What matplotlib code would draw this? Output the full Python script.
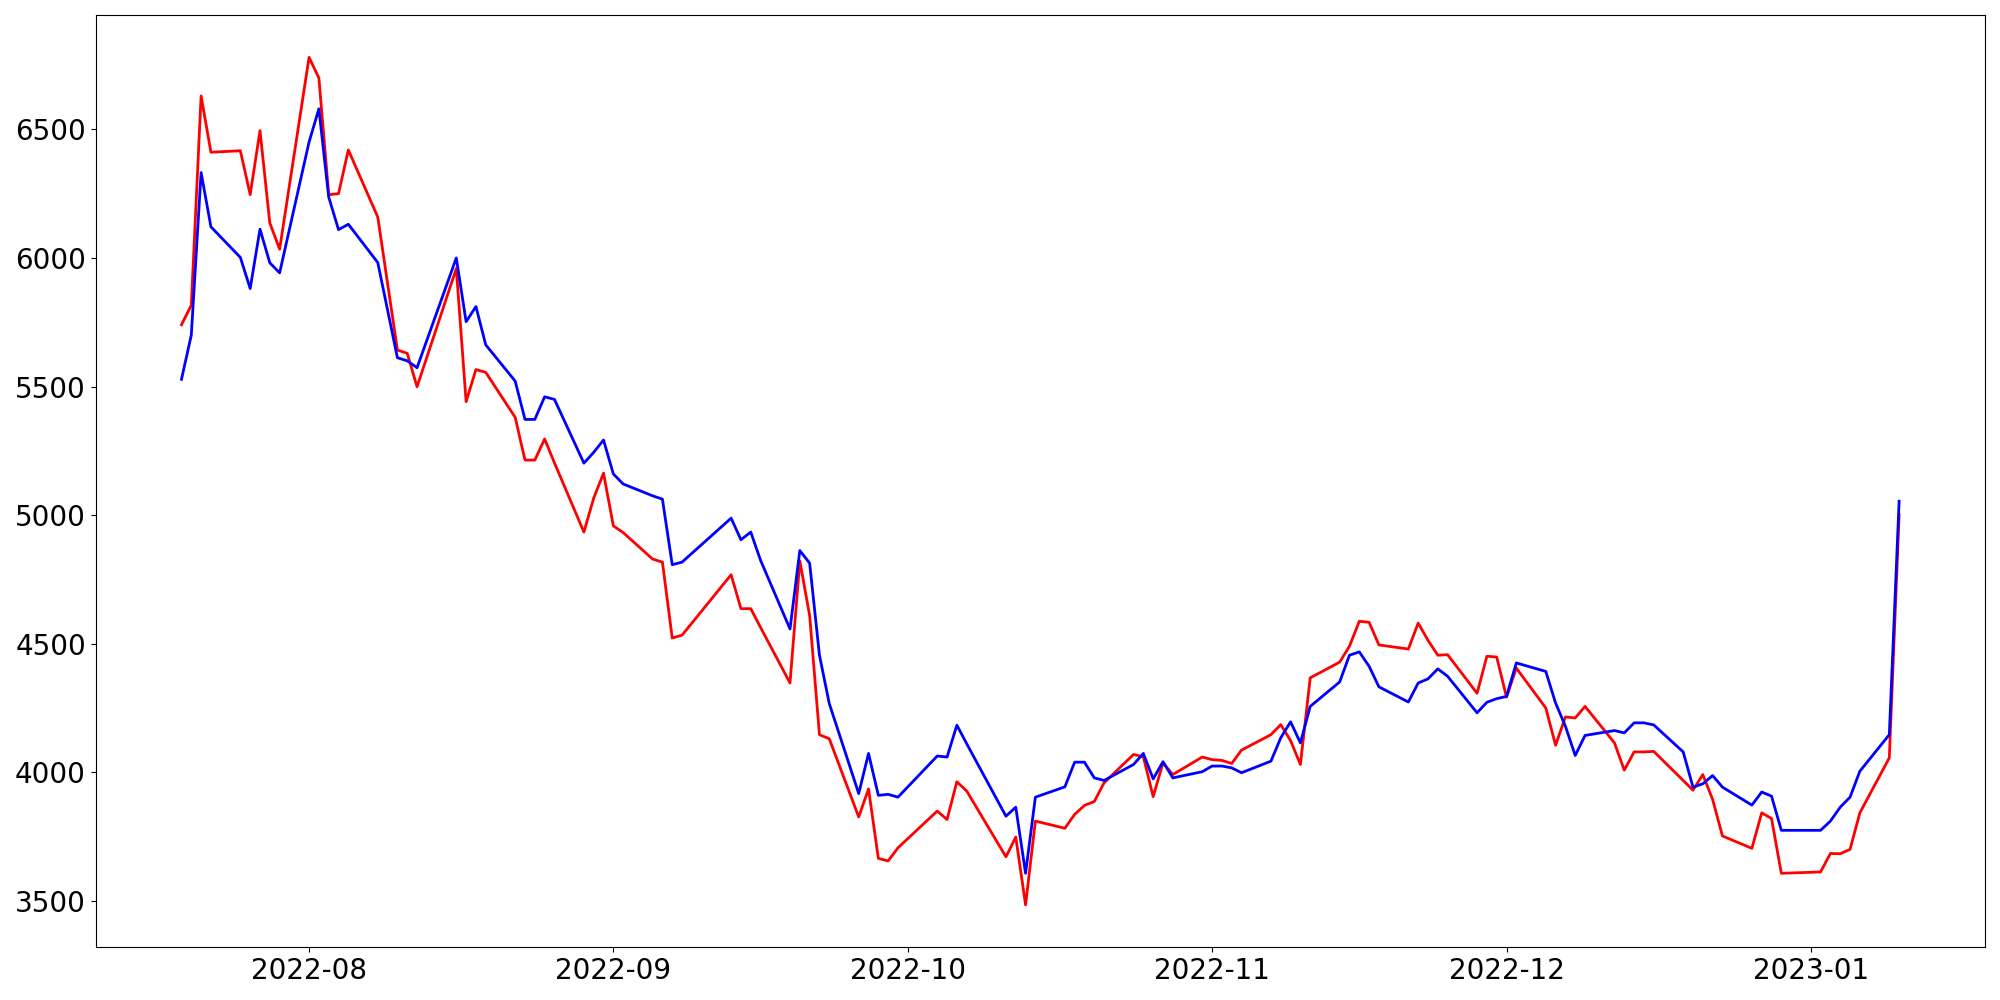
import pandas as pd
import matplotlib
matplotlib.use("Agg")
import matplotlib.pyplot as plt

dates = [
    "2022-07-19", "2022-07-20", "2022-07-21", "2022-07-22", "2022-07-25", "2022-07-26",
    "2022-07-27", "2022-07-28", "2022-07-29", "2022-08-01", "2022-08-02", "2022-08-03",
    "2022-08-04", "2022-08-05", "2022-08-08", "2022-08-10", "2022-08-11", "2022-08-12",
    "2022-08-16", "2022-08-17", "2022-08-18", "2022-08-19", "2022-08-22", "2022-08-23",
    "2022-08-24", "2022-08-25", "2022-08-26", "2022-08-29", "2022-08-30", "2022-08-31",
    "2022-09-01", "2022-09-02", "2022-09-05", "2022-09-06", "2022-09-07", "2022-09-08",
    "2022-09-13", "2022-09-14", "2022-09-15", "2022-09-16", "2022-09-19", "2022-09-20",
    "2022-09-21", "2022-09-22", "2022-09-23", "2022-09-26", "2022-09-27", "2022-09-28",
    "2022-09-29", "2022-09-30", "2022-10-04", "2022-10-05", "2022-10-06", "2022-10-07",
    "2022-10-11", "2022-10-12", "2022-10-13", "2022-10-14", "2022-10-17", "2022-10-18",
    "2022-10-19", "2022-10-20", "2022-10-21", "2022-10-24", "2022-10-25", "2022-10-26",
    "2022-10-27", "2022-10-28", "2022-10-31", "2022-11-01", "2022-11-02", "2022-11-03",
    "2022-11-04", "2022-11-07", "2022-11-08", "2022-11-09", "2022-11-10", "2022-11-11",
    "2022-11-14", "2022-11-15", "2022-11-16", "2022-11-17", "2022-11-18", "2022-11-21",
    "2022-11-22", "2022-11-23", "2022-11-24", "2022-11-25", "2022-11-28", "2022-11-29",
    "2022-11-30", "2022-12-01", "2022-12-02", "2022-12-05", "2022-12-06", "2022-12-07",
    "2022-12-08", "2022-12-09", "2022-12-12", "2022-12-13", "2022-12-14", "2022-12-15",
    "2022-12-16", "2022-12-19", "2022-12-20", "2022-12-21", "2022-12-22", "2022-12-23",
    "2022-12-26", "2022-12-27", "2022-12-28", "2022-12-29", "2023-01-02", "2023-01-03",
    "2023-01-04", "2023-01-05", "2023-01-06", "2023-01-09", "2023-01-10",
]

red_values = [
    5740, 5816, 6630, 6411, 6417, 6246,
    6495, 6136, 6034, 6780, 6700, 6246,
    6250, 6420, 6159, 5642, 5629, 5499,
    5959, 5441, 5566, 5555, 5380, 5214,
    5214, 5296, 5203, 4934, 5066, 5163,
    4958, 4932, 4829, 4817, 4522, 4533,
    4768, 4636, 4636, 4563, 4347, 4822,
    4609, 4146, 4130, 3826, 3935, 3665,
    3655, 3706, 3849, 3816, 3963, 3927,
    3671, 3748, 3484, 3810, 3782, 3836,
    3871, 3886, 3959, 4069, 4060, 3905,
    4036, 3991, 4059, 4049, 4046, 4034,
    4086, 4146, 4185, 4123, 4030, 4367,
    4428, 4490, 4587, 4583, 4495, 4479,
    4580, 4513, 4455, 4457, 4307, 4451,
    4448, 4292, 4405, 4250, 4105, 4215,
    4211, 4256, 4114, 4008, 4079, 4079,
    4081, 3968, 3930, 3991, 3894, 3752,
    3704, 3842, 3820, 3607, 3612, 3684,
    3683, 3700, 3842, 4056, 5001,
]

blue_values = [
    5528, 5700, 6332, 6121, 6002, 5881,
    6112, 5981, 5942, 6451, 6580, 6237,
    6110, 6131, 5982, 5612, 5600, 5573,
    6000, 5752, 5811, 5662, 5521, 5372,
    5372, 5460, 5450, 5202, 5244, 5292,
    5160, 5121, 5075, 5062, 4807, 4817,
    4988, 4904, 4934, 4824, 4557, 4862,
    4813, 4455, 4267, 3917, 4073, 3910,
    3914, 3903, 4063, 4059, 4183, 4111,
    3829, 3864, 3607, 3903, 3943, 4039,
    4039, 3978, 3968, 4030, 4073, 3974,
    4041, 3978, 4002, 4024, 4024, 4017,
    3998, 4043, 4134, 4196, 4114, 4256,
    4351, 4455, 4468, 4412, 4332, 4273,
    4347, 4363, 4402, 4373, 4231, 4272,
    4286, 4295, 4425, 4392, 4269, 4179,
    4065, 4143, 4162, 4153, 4192, 4192,
    4184, 4079, 3942, 3955, 3987, 3942,
    3872, 3923, 3907, 3774, 3774, 3810,
    3864, 3903, 4004, 4146, 5054,
]

x = pd.to_datetime(dates)

plt.figure(figsize=(20, 10), dpi=100)
plt.plot(x, red_values, color="red", linewidth=2)
plt.plot(x, blue_values, color="blue", linewidth=2)

plt.xticks(fontsize=20)
plt.yticks(fontsize=20)

plt.tight_layout()
plt.savefig("out.png", dpi=100)
